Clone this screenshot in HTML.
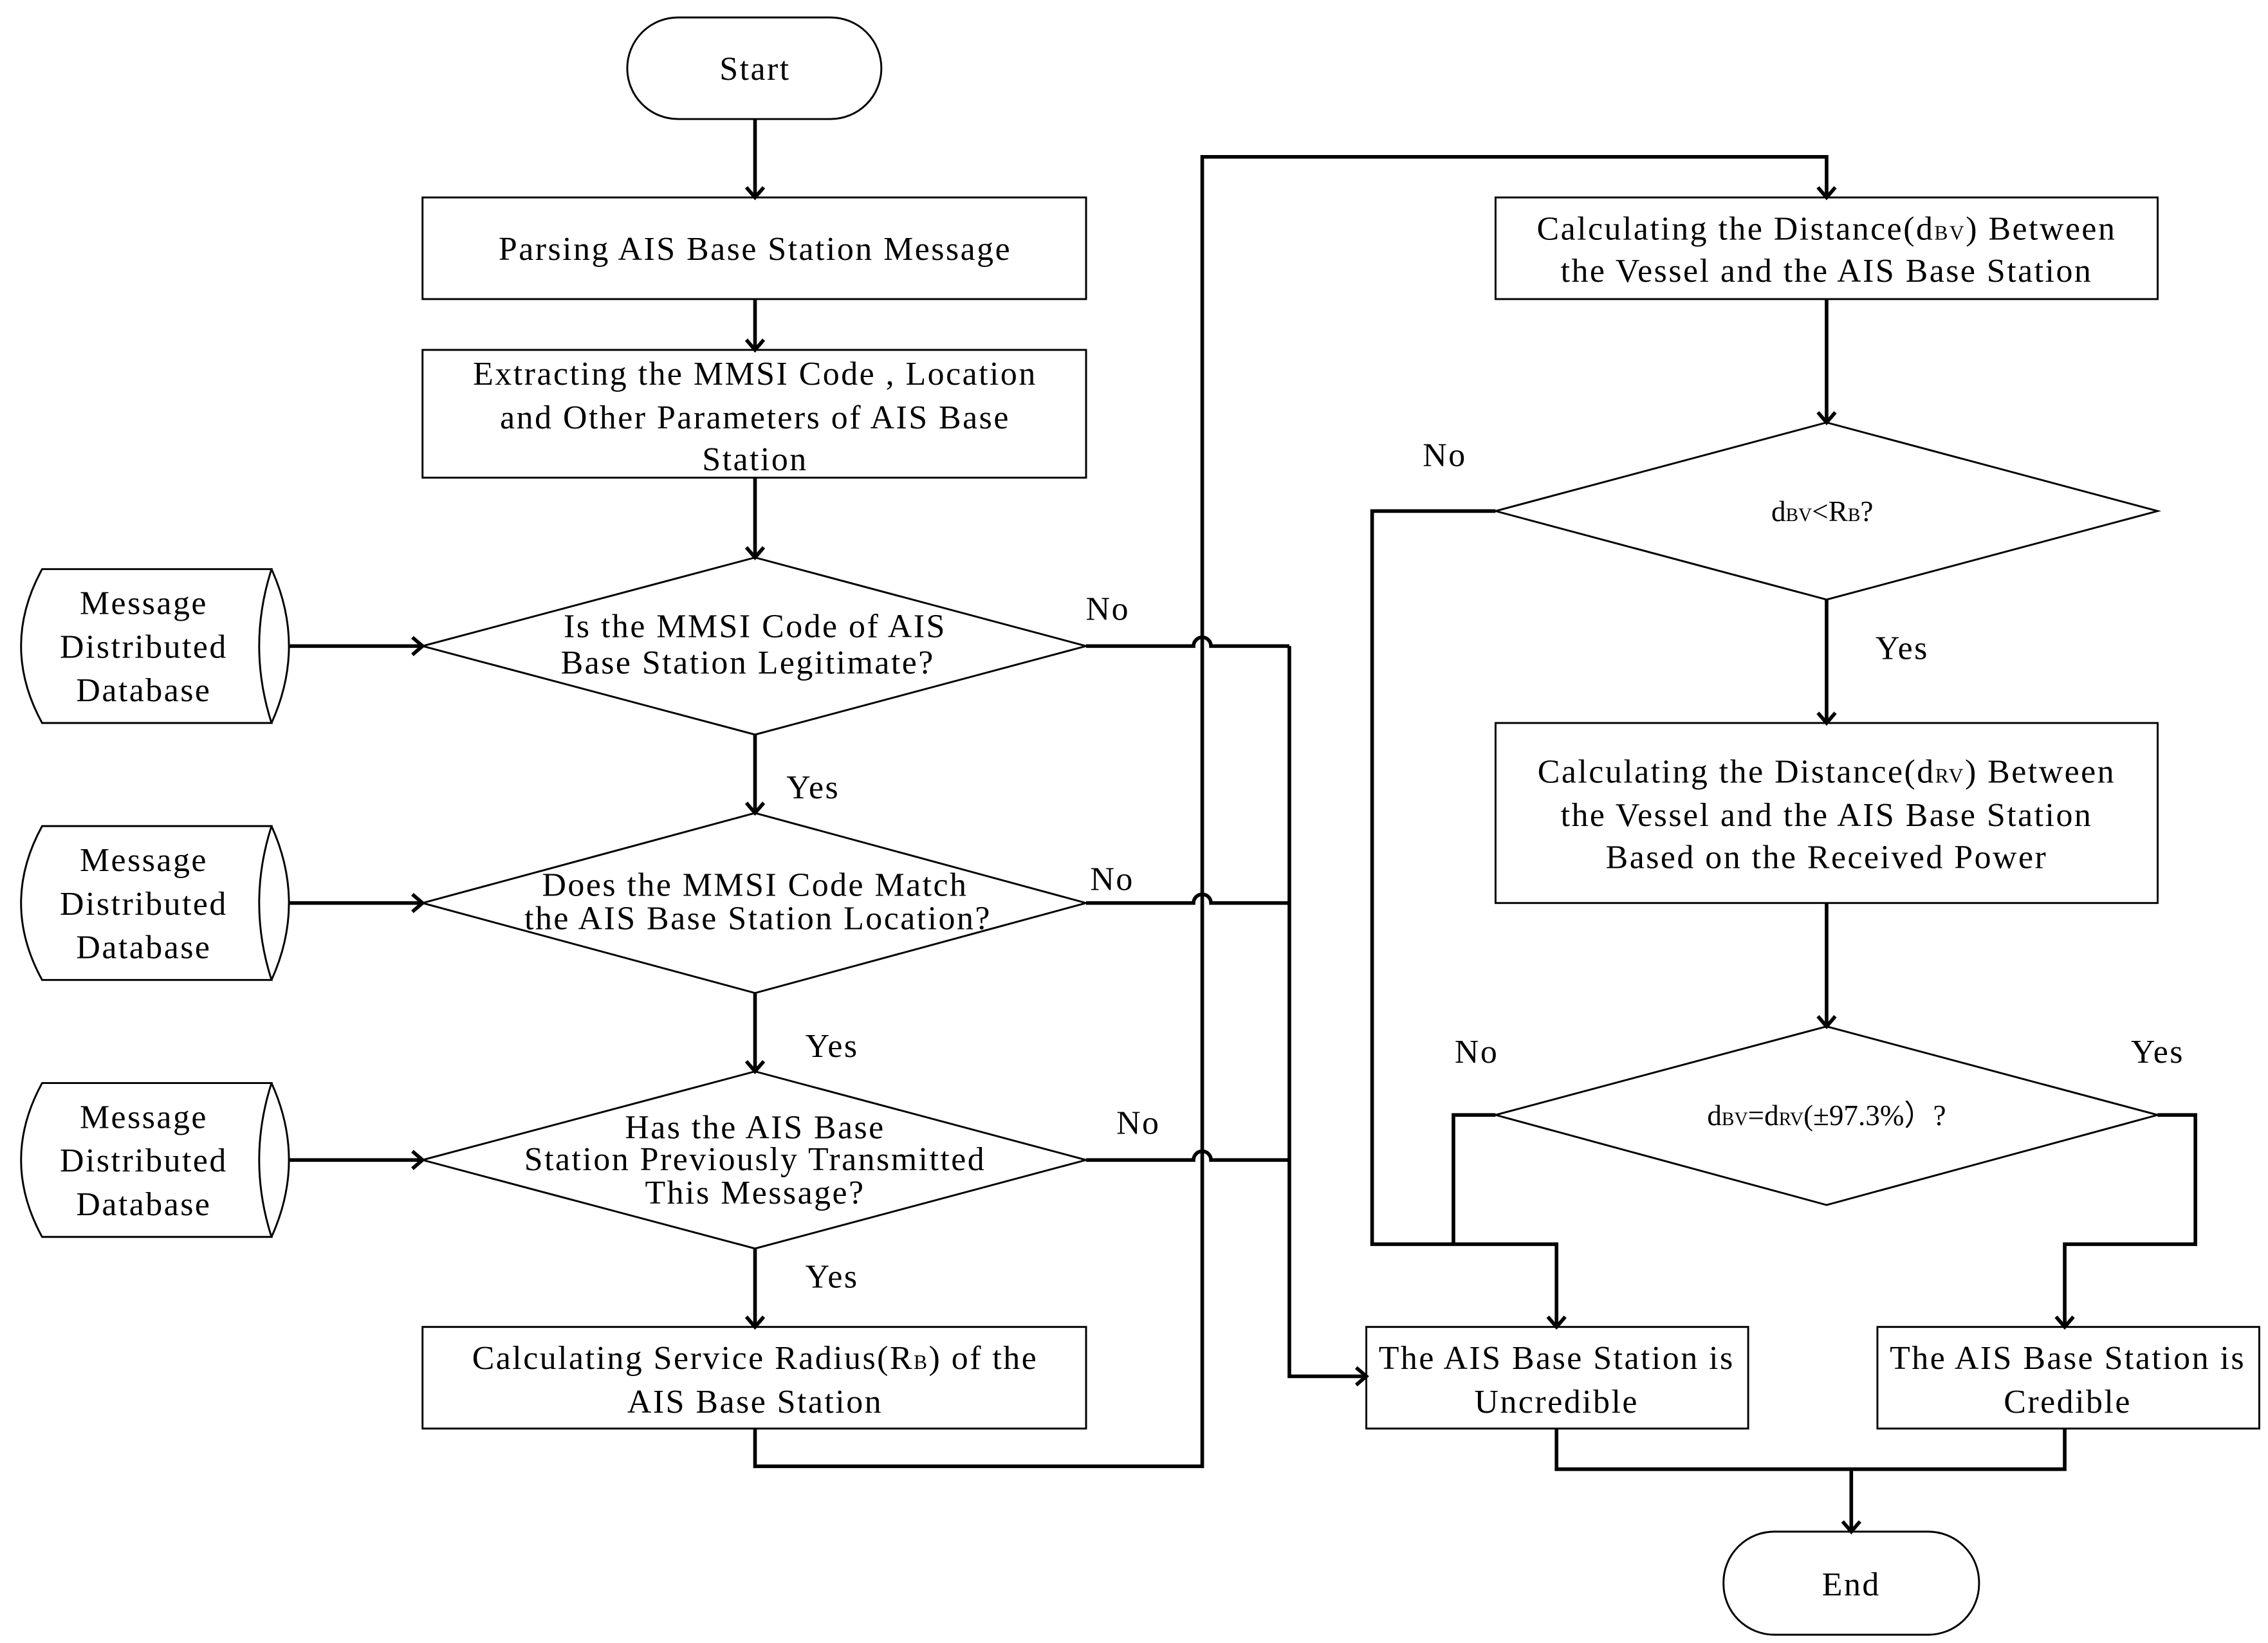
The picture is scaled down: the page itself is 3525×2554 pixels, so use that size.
<!DOCTYPE html>
<html><head><meta charset="utf-8"><style>html,body{margin:0;padding:0;background:#fff}svg{display:block}</style></head>
<body>
<svg width="3525" height="2554" viewBox="0 0 1562 1131.7" xmlns="http://www.w3.org/2000/svg" font-family="Liberation Serif, serif" font-size="23" letter-spacing="1.1" text-anchor="middle">
<defs>
<marker id="a" markerWidth="14" markerHeight="14" refX="10" refY="7" orient="auto" markerUnits="userSpaceOnUse">
<polyline points="3,1 10,7 3,13" fill="none" stroke="#000" stroke-width="2.5"/>
</marker>
</defs>
<g fill="none" stroke="#000" stroke-width="1.3">
<rect x="432" y="12" width="175" height="70" rx="35"/>
<rect x="1187" y="1055" width="176" height="71" rx="35"/>
<rect x="291" y="136" width="457" height="70"/>
<rect x="291" y="241" width="457" height="88"/>
<rect x="291" y="914" width="457" height="70"/>
<rect x="1030" y="136" width="456" height="70"/>
<rect x="1030" y="498" width="456" height="124"/>
<rect x="941" y="914" width="263" height="70"/>
<rect x="1293" y="914" width="263" height="70"/>
<polygon points="520,384 748,445 520,506 291,445"/>
<polygon points="520,560 748,622 520,684 291,622"/>
<polygon points="520,738 748,799 520,860 291,799"/>
<polygon points="1258,291 1486,352 1258,413 1030,352"/>
<polygon points="1258,707 1486,768 1258,830 1030,768"/>
<g id="db"><path d="M29,392 H187 Q170,445 187,498 H29 Q0,445 29,392 Z"/><path d="M187,392 Q211,445 187,498"/></g>
<use href="#db" y="177"/><use href="#db" y="354"/>
</g>
<g fill="none" stroke="#000" stroke-width="2.5">
<path d="M520,82 V136" marker-end="url(#a)"/>
<path d="M520,206 V241" marker-end="url(#a)"/>
<path d="M520,329 V384" marker-end="url(#a)"/>
<path d="M520,506 V560" marker-end="url(#a)"/>
<path d="M520,684 V738" marker-end="url(#a)"/>
<path d="M520,860 V914" marker-end="url(#a)"/>
<path d="M199,445 H291" marker-end="url(#a)"/>
<path d="M199,622 H291" marker-end="url(#a)"/>
<path d="M199,799 H291" marker-end="url(#a)"/>
<path d="M520,984 V1010 H828 V108 H1258 V136" marker-end="url(#a)"/>
<path d="M748,445 H822 A6,6 0 0 1 834,445 H888"/>
<path d="M748,622 H822 A6,6 0 0 1 834,622 H888"/>
<path d="M748,799 H822 A6,6 0 0 1 834,799 H888"/>
<path d="M888,445 V948 H941" marker-end="url(#a)"/>
<path d="M1258,206 V291" marker-end="url(#a)"/>
<path d="M1258,413 V498" marker-end="url(#a)"/>
<path d="M1258,622 V707" marker-end="url(#a)"/>
<path d="M1030,352 H945 V857 H1072 V914" marker-end="url(#a)"/>
<path d="M1030,768 H1001 V857"/>
<path d="M1486,768 H1512 V857 H1422 V914" marker-end="url(#a)"/>
<path d="M1072,984 V1012 H1422 V984"/>
<path d="M1275,1012 V1055" marker-end="url(#a)"/>
</g>
<g fill="#000">
<text x="520" y="55">Start</text>
<text x="1275" y="1099">End</text>
<text x="520" y="179">Parsing AIS Base Station Message</text>
<text x="520" y="265">Extracting the MMSI Code , Location</text>
<text x="520" y="295">and Other Parameters of AIS Base</text>
<text x="520" y="324">Station</text>
<text x="520" y="439">Is the MMSI Code of AIS</text>
<text x="515" y="464">Base Station Legitimate?</text>
<text x="520" y="617">Does the MMSI Code Match</text>
<text x="522" y="640">the AIS Base Station Location?</text>
<text x="520" y="784">Has the AIS Base</text>
<text x="520" y="806">Station Previously Transmitted</text>
<text x="520" y="829">This Message?</text>
<text x="520" y="943">Calculating Service Radius(R<tspan font-size="14">B</tspan>) of the</text>
<text x="520" y="973">AIS Base Station</text>
<text x="1258" y="165">Calculating the Distance(d<tspan font-size="14">BV</tspan>) Between</text>
<text x="1258" y="194">the Vessel and the AIS Base Station</text>
<text x="1255" y="359" font-size="20" letter-spacing="0">d<tspan font-size="13">BV</tspan>&lt;R<tspan font-size="13">B</tspan>?</text>
<text x="1258" y="539">Calculating the Distance(d<tspan font-size="14">RV</tspan>) Between</text>
<text x="1258" y="569">the Vessel and the AIS Base Station</text>
<text x="1258" y="598">Based on the Received Power</text>
<text x="1258" y="775" font-size="20" letter-spacing="0">d<tspan font-size="13">BV</tspan>=d<tspan font-size="13">RV</tspan>(±97.3%）?</text>
<text x="1072" y="943">The AIS Base Station is</text>
<text x="1072" y="973">Uncredible</text>
<text x="1424" y="943">The AIS Base Station is</text>
<text x="1424" y="973">Credible</text>
<text x="99" y="423">Message</text><text x="99" y="453">Distributed</text><text x="99" y="483">Database</text>
<text x="99" y="600">Message</text><text x="99" y="630">Distributed</text><text x="99" y="660">Database</text>
<text x="99" y="777">Message</text><text x="99" y="807">Distributed</text><text x="99" y="837">Database</text>
<text x="560" y="550">Yes</text>
<text x="573" y="728">Yes</text>
<text x="573" y="887">Yes</text>
<text x="763" y="427">No</text>
<text x="766" y="613">No</text>
<text x="784" y="781">No</text>
<text x="995" y="321">No</text>
<text x="1310" y="454">Yes</text>
<text x="1017" y="732">No</text>
<text x="1486" y="732">Yes</text>
</g>
</svg>
</body></html>
